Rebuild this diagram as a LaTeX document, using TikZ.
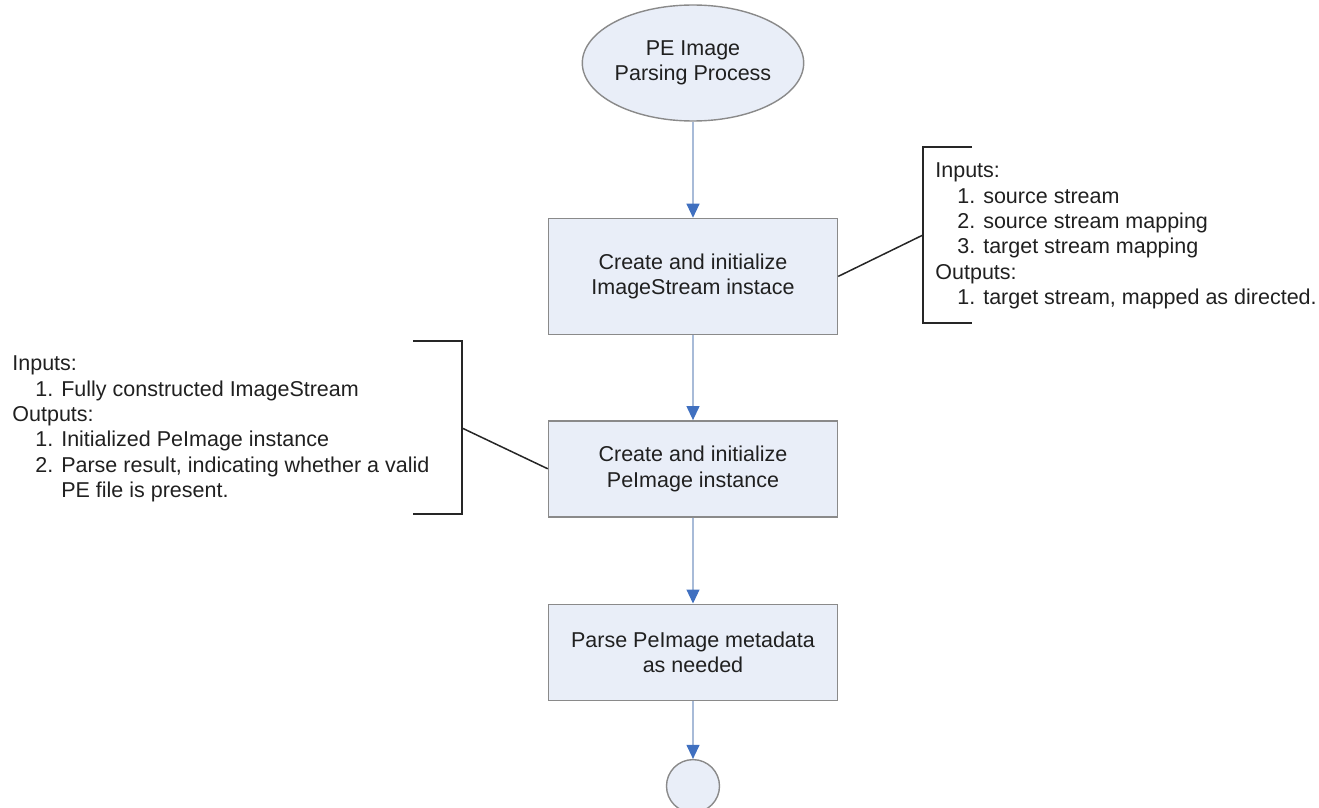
\documentclass[tikz,border=0pt]{standalone}
\usepackage{fontspec}
\setmainfont{Liberation Sans}
\usetikzlibrary{arrows.meta, shapes.geometric, positioning}

\definecolor{boxfill}{HTML}{E9EEF8}
\definecolor{boxline}{HTML}{8A8A8A}
\definecolor{flowline}{HTML}{A8BBD8}
\definecolor{flowtip}{HTML}{4070C0}
\definecolor{ink}{HTML}{202020}

\tikzset{
	txt/.style={font=\fontsize{10.75}{12.7}\selectfont, text=ink},
	termin/.style={ellipse, draw=boxline, fill=boxfill, line width=0.7pt, minimum width=104pt, minimum height=58pt, inner sep=0pt, align=center, txt},
	stepbox/.style={rectangle, draw=boxline, fill=boxfill, line width=0.7pt, minimum width=144.5pt, align=center, txt},
	endcirc/.style={circle, draw=boxline, fill=boxfill, line width=0.7pt, minimum size=26.5pt, inner sep=0pt},
	flow/.style={draw=flowline, line width=0.6pt, -{Triangle[length=7pt, width=6.5pt, color=flowtip]}},
	note/.style={anchor=west, align=left, inner sep=0pt, txt},
	bracket/.style={draw=black!85, line width=1pt},
	link/.style={draw=black!85, line width=0.75pt}
}

\begin{document}
\begin{tikzpicture}[x=0.5pt, y=-0.5pt]
	\useasboundingbox (0,0) rectangle (1319,808);
	
	\node[termin] (pe) at (693,63) 								{PE Image\\Parsing Process};
	\node[stepbox, minimum height=58pt, below=48pt of pe] (isc) 	{Create and initialize\\ImageStream instace};
	\node[stepbox, minimum height=48pt, below=42.5pt of isc] (pec) 	{Create and initialize\\PeImage instance};
	\node[stepbox, minimum height=48pt, below=43pt of pec] (meta) 	{Parse PeImage metadata\\as needed};
	\node[endcirc, below=29pt of meta] (done) 						{};
	
	\node[note] (inR) at (935,236) {Inputs:\\
		\hspace*{11pt}1. source stream\\
		\hspace*{11pt}2. source stream mapping\\
		\hspace*{11pt}3. target stream mapping\\
		Outputs:\\
		\hspace*{11pt}1. target stream, mapped as directed.};
	\node[note] (inL) at (12,429) {Inputs:\\
		\hspace*{11.5pt}1. Fully constructed ImageStream\\
		Outputs:\\
		\hspace*{11.5pt}1. Initialized PeImage instance\\
		\hspace*{11.5pt}2. Parse result, indicating whether a valid\\
		\hspace*{11.5pt}\phantom{2. }PE file is present.};
	
	\draw[bracket] (972,147) -- (923,147) -- (923,323) -- (972,323);
	\draw[bracket] (413,341) -- (462,341) -- (462,514) -- (413,514);
	\coordinate (bR) at (923,235);
	\coordinate (bL) at (462,428);
	
	\draw[flow] (pe) -- (isc);
	\draw[flow] (isc) -- (pec);
	\draw[flow] (pec) -- (meta);
	\draw[flow] (meta) -- (done);
	\draw[link] (isc.east) -- (bR);
	\draw[link] (pec.west) -- (bL);
\end{tikzpicture}
\end{document}
